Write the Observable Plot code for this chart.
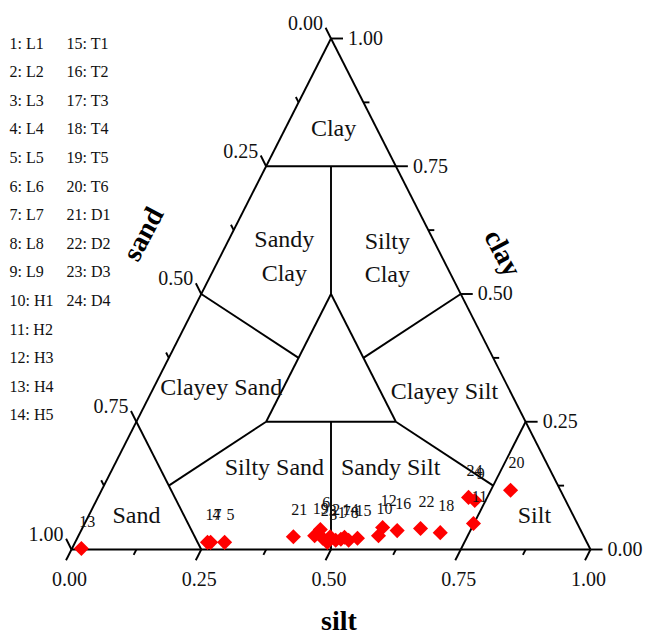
<!DOCTYPE html>
<html><head><meta charset="utf-8">
<script src="https://cdn.jsdelivr.net/npm/d3@7"></script>
<script src="https://cdn.jsdelivr.net/npm/@observablehq/plot@0.6"></script>
<style>
html,body{margin:0;padding:0;background:#fff;}
#chart{width:646px;height:635px;}
</style></head><body><div id="chart"></div>
<script>
// ---- data (fractions) ----
const ids   = [1,2,3,4,5,6,7,8,9,10,11,12,13,14,15,16,17,18,19,20,21,22,23,24];
const codes = ["L1","L2","L3","L4","L5","L6","L7","L8","L9","H1","H2","H3","H4","H5",
               "T1","T2","T3","T4","T5","T6","D1","D2","D3","D4"];
const sand  = [0.482,0.489,0.500,0.725,0.698,0.501,0.471,0.457,0.175,0.395,0.200,0.379,
               0.980,0.462,0.438,0.354,0.731,0.273,0.518,0.096,0.560,0.307,0.505,0.184];
const silt  = [0.500,0.486,0.486,0.261,0.288,0.460,0.509,0.525,0.729,0.578,0.749,0.578,
               0.018,0.514,0.540,0.609,0.255,0.694,0.455,0.788,0.415,0.652,0.473,0.714];
const clay  = [0.018,0.025,0.014,0.014,0.014,0.039,0.020,0.018,0.096,0.027,0.051,0.043,
               0.002,0.024,0.022,0.037,0.014,0.033,0.027,0.116,0.025,0.041,0.022,0.102];
const tickVals  = [0, 0.25, 0.5, 0.75, 1];
const tickText  = ["0.00","0.25","0.50","0.75","1.00"];
const minorVals = [0.125, 0.375, 0.625, 0.875];
const regionNames = ["Clay","Sandy\nClay","Silty\nClay","Clayey Sand","Clayey Silt",
                     "Silty Sand","Sandy Silt","Sand","Silt"];
// label anchor compositions [sand, silt, clay]
const regionComp = [[0.08,0.09,0.83],[0.30,0.12,0.58],[0.103,0.32,0.577],[0.55,0.127,0.323],
                    [0.124,0.561,0.315],[0.526,0.308,0.166],[0.302,0.532,0.166],[0.839,0.089,0.072],[0.072,0.856,0.072]];
// classification boundaries [sand, silt, clay] pairs
const boundaries = [
  [[1,0,0],[0,1,0]],[[0,1,0],[0,0,1]],[[0,0,1],[1,0,0]],
  [[0.25,0,0.75],[0,0.25,0.75]],
  [[0.125,0.125,0.75],[0.25,0.25,0.5]],
  [[0.25,0.25,0.5],[0.5,0.25,0.25]],[[0.5,0.25,0.25],[0.25,0.5,0.25]],[[0.25,0.5,0.25],[0.25,0.25,0.5]],
  [[0.5,0,0.5],[0.375,0.25,0.375]],
  [[0,0.5,0.5],[0.25,0.375,0.375]],
  [[0.75,0,0.25],[0.75,0.25,0]],
  [[0,0.75,0.25],[0.25,0.75,0]],
  [[0.5,0.25,0.25],[0.75,0.125,0.125]],
  [[0.25,0.5,0.25],[0.125,0.75,0.125]],
  [[0.375,0.375,0.25],[0.5,0.5,0]]
];

// ---- layout ----
const W = 646, H = 635, mL = 71, mR = 56, mT = 38, mB = 86;
const pw = W - mL - mR, ph = H - mT - mB;
const tx = (s, si, c) => si + c / 2;   // ternary -> x
const ty = (s, si, c) => c;            // ternary -> y
const fx = px => (px - mL) / pw;       // pixel -> data (for free-floating text)
const fy = py => (H - mB - py) / ph;

const pts = ids.map((id, i) => ({id, code: codes[i], x: tx(sand[i], silt[i], clay[i]), y: ty(sand[i], silt[i], clay[i])}));
const segs = boundaries.map(([a, b]) => ({x1: tx(...a), y1: ty(...a), x2: tx(...b), y2: ty(...b)}));

// ticks: pixel directions converted to data units
const ticks = [];
const dirB = [-260, 511], dirL = [-259, -511], dirR = [1, 0];
function addTicks(vals, len, anchorFn, dir) {
  const n = Math.hypot(dir[0], dir[1]);
  for (const v of vals) {
    const [x, y] = anchorFn(v);
    ticks.push({x1: x, y1: y, x2: x + dir[0] / n * len / pw, y2: y - dir[1] / n * len / ph});
  }
}
const bottomAt = v => [v, 0];
const leftAt = v => [(1 - v) / 2, 1 - v];
const rightAt = v => [1 - v / 2, v];
addTicks(tickVals, 12, bottomAt, dirB); addTicks(minorVals, 6, bottomAt, dirB);
addTicks(tickVals, 12, leftAt, dirL);   addTicks(minorVals, 6, leftAt, dirL);
addTicks(tickVals, 12, rightAt, dirR);  addTicks(minorVals, 6, rightAt, dirR);

const tlBottom = tickVals.map((v, i) => ({x: bottomAt(v)[0], y: bottomAt(v)[1], t: tickText[i]}));
const tlLeft   = tickVals.map((v, i) => ({x: leftAt(v)[0], y: leftAt(v)[1], t: tickText[i]}));
const tlRight  = tickVals.map((v, i) => ({x: rightAt(v)[0], y: rightAt(v)[1], t: tickText[i]}));
const regions = regionNames.map((t, i) => ({t, x: tx(...regionComp[i]), y: ty(...regionComp[i])}));
const legend = pts.map((p, i) => ({t: `${p.id}: ${p.code}`, x: fx(i < 14 ? 9 : 66), y: fy(43 + 28.6 * (i < 14 ? i : i - 14))}));

const font = "Liberation Serif, Times New Roman, serif";
const chart = Plot.plot({
  width: W, height: H, marginLeft: mL, marginRight: mR, marginTop: mT, marginBottom: mB,
  x: {domain: [0, 1], axis: null},
  y: {domain: [0, 1], axis: null},
  style: {fontFamily: font, background: "#fff", overflow: "visible"},
  marks: [
    Plot.link(segs, {x1: "x1", y1: "y1", x2: "x2", y2: "y2", stroke: "#000", strokeWidth: 1.9}),
    Plot.link(ticks, {x1: "x1", y1: "y1", x2: "x2", y2: "y2", stroke: "#000", strokeWidth: 1.9}),
    Plot.text(tlBottom, {x: "x", y: "y", text: "t", dx: -2, dy: 30, fontSize: 20, fill: "#111"}),
    Plot.text(tlLeft, {x: "x", y: "y", text: "t", dx: -8, dy: -15, textAnchor: "end", fontSize: 20, fill: "#111"}),
    Plot.text(tlRight, {x: "x", y: "y", text: "t", dx: 17, textAnchor: "start", fontSize: 20, fill: "#111"}),
    Plot.text(regions, {x: "x", y: "y", text: "t", fontSize: 24, lineHeight: 1.4, fill: "#111"}),
    Plot.dot(pts, {x: "x", y: "y", symbol: "diamond2", r: 6.8, fill: "#ff0000", stroke: "none"}),
    Plot.text(pts, {x: "x", y: "y", text: "id", dx: 6, dy: -27, fontSize: 16, fill: "#111"}),
    Plot.text(legend, {x: "x", y: "y", text: "t", textAnchor: "start", fontSize: 16, fill: "#111"}),
    Plot.text(["silt"], {x: 0.5, y: 0, text: d => d, dx: 8, dy: 72, fontSize: 28, fontWeight: "bold", fill: "#000"}),
    Plot.text(["sand"], {x: leftAt(0.5)[0], y: leftAt(0.5)[1], text: d => d, dx: -58, dy: -60, rotate: -62, fontSize: 28, fontWeight: "bold", fill: "#000"}),
    Plot.text(["clay"], {x: rightAt(0.5)[0], y: rightAt(0.5)[1], text: d => d, dx: 42, dy: -41, rotate: 62, fontSize: 28, fontWeight: "bold", fill: "#000"})
  ]
});
document.getElementById("chart").appendChild(chart);
</script></body></html>
